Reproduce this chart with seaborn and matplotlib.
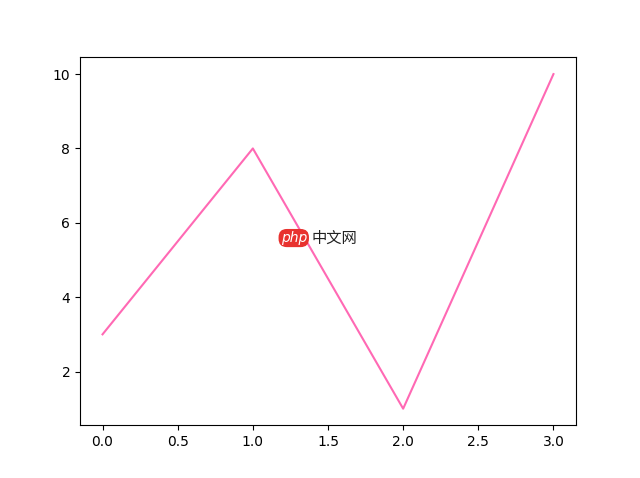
import matplotlib
matplotlib.use("Agg")
import matplotlib.pyplot as plt
import seaborn as sns
import pandas as pd

# data
x_vals = [0, 1, 2, 3]
y_vals = [3, 8, 1, 10]

df = pd.DataFrame({"x": x_vals, "y": y_vals})

fig, ax = plt.subplots(figsize=(6.4, 4.78), dpi=100)
sns.lineplot(data=df, x="x", y="y", color="hotpink", ax=ax)
ax.set_xlabel("")
ax.set_ylabel("")

# watermark
fig.text(0.459, 0.502, "php", color="white", fontsize=10, style="italic",
         ha="center", va="center",
         bbox=dict(boxstyle="round,pad=0.15,rounding_size=0.6", fc="#e8322f", ec="none"))
fig.text(0.487, 0.502, "中文网", color="#222222", fontsize=11, style="italic",
         ha="left", va="center", family=["Noto Sans CJK SC", "DejaVu Sans"])

fig.savefig("out.png", dpi=100)
